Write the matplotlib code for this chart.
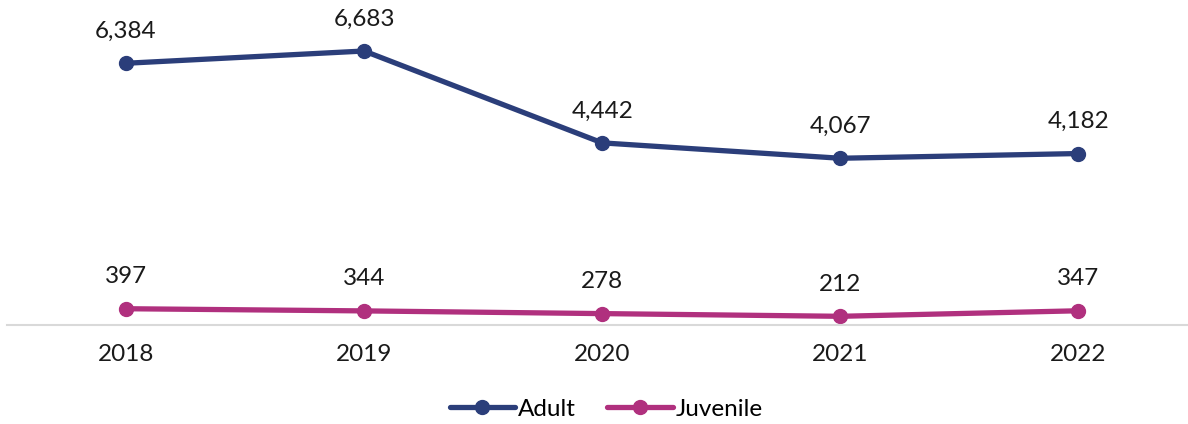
import matplotlib.pyplot as plt

years = ['2018', '2019', '2020', '2021', '2022']
adult = [6384, 6683, 4442, 4067, 4182]
juvenile = [397, 344, 278, 212, 347]

plt.rcParams['font.family'] = ['Lato', 'DejaVu Sans']

fig = plt.figure(figsize=(11.88, 4.24), dpi=100)
ax = fig.add_axes([7 / 1188, 99 / 424, 1181 / 1188, 325 / 424])

x = range(len(years))
ax.plot(x, adult, color='#2b3e7a', lw=3.8, marker='o', ms=10, label='Adult', solid_capstyle='round')
ax.plot(x, juvenile, color='#b0307e', lw=3.8, marker='o', ms=10, label='Juvenile', solid_capstyle='round')

for i, v in enumerate(adult):
    ax.annotate(f'{v:,}', (i, v), xytext=(0, 23), textcoords='offset points',
                ha='center', va='center', fontsize=17.5, color='#1a1a1a')
for i, v in enumerate(juvenile):
    ax.annotate(f'{v:,}', (i, v), xytext=(0, 23), textcoords='offset points',
                ha='center', va='center', fontsize=17.5, color='#1a1a1a')

ax.set_xlim(-0.5, 4.46)
ax.set_ylim(0, 7927)
ax.set_xticks(list(x))
ax.set_xticklabels(years, fontsize=17.5, color='#1a1a1a')
ax.tick_params(axis='x', length=0, pad=14)
ax.set_yticks([])
for s in ['top', 'right', 'left']:
    ax.spines[s].set_visible(False)
ax.spines['bottom'].set_color('#d9d9d9')
ax.spines['bottom'].set_linewidth(1.5)

fig.legend(loc='center', bbox_to_anchor=(606 / 1188, 1 - 409 / 424), ncol=2, frameon=False,
           fontsize=17.5, handlelength=2.7, handletextpad=0.1, columnspacing=1.3)

fig.savefig('out.png', dpi=100)
